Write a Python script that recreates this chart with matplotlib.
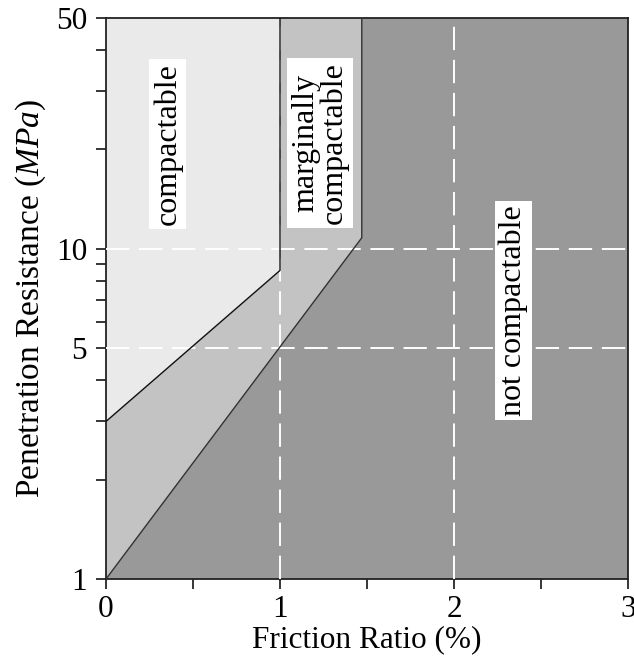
import matplotlib
matplotlib.use("Agg")
import matplotlib.pyplot as plt
from matplotlib.ticker import FixedLocator, NullFormatter, FixedFormatter

# ---- data ----
# compactable zone (friction ratio %, penetration resistance MPa)
compact_fr = [0.0, 1.0, 1.0, 0.0]
compact_pr = [3.0, 8.6, 50.0, 50.0]
# marginally compactable zone (upper part includes compactable, drawn underneath)
marginal_fr = [0.0, 1.47, 1.47, 0.0]
marginal_pr = [1.0, 10.8, 50.0, 50.0]
# whole chart domain = not compactable
x_min, x_max = 0.0, 3.0
y_min, y_max = 1.0, 50.0

x_major = [0, 1, 2, 3]
x_minor = [0.5, 1.5, 2.5]
y_major = [1, 5, 10, 50]
y_major_labels = ["1", "5", "10", "50"]
y_minor = [2, 3, 4, 6, 7, 8, 9, 20, 30, 40]
grid_x = [1, 2]
grid_y = [5, 10]

labels = [
    ("compactable", 0.355, 20.8),
    ("marginally\ncompactable", 1.23, 20.9),
    ("not compactable", 2.34, 6.5),
]

# ---- colours ----
c_light = "#eaeaea"
c_mid = "#c3c3c3"
c_dark = "#999999"

plt.rcParams["font.family"] = ["Liberation Serif", "DejaVu Serif"]
plt.rcParams["mathtext.fontset"] = "custom"
plt.rcParams["mathtext.it"] = "Liberation Serif:italic"
plt.rcParams["mathtext.rm"] = "Liberation Serif"

fig = plt.figure(figsize=(6.34, 6.59), dpi=100)
ax = fig.add_axes([106 / 634, 1 - 579 / 659, (628 - 106) / 634, (579 - 18) / 659])
ax.set_yscale("log")
ax.set_xlim(x_min, x_max)
ax.set_ylim(y_min, y_max)
ax.set_facecolor(c_dark)

ax.fill(marginal_fr, marginal_pr, color=c_mid, zorder=1, lw=0)
ax.fill(compact_fr, compact_pr, color=c_light, zorder=2, lw=0)

# white dashed guide lines
for gx in grid_x:
    ax.axvline(gx, color="white", lw=1.4, ls=(0, (12, 5)), zorder=3)
for gy in grid_y:
    ax.axhline(gy, color="white", lw=1.4, ls=(0, (12, 5)), zorder=3)

# boundary lines
ax.plot(marginal_fr[:3], marginal_pr[:3], color="#333333", lw=1.0, zorder=4)
ax.plot(compact_fr[:3], compact_pr[:3], color="#111111", lw=1.0, zorder=4)

for txt, x, y in labels:
    ax.text(x, y, txt, rotation=90, ha="center", va="center", fontsize=23,
            linespacing=0.95, zorder=5,
            bbox=dict(boxstyle="square,pad=0.12", fc="white", ec="none"))

ax.xaxis.set_major_locator(FixedLocator(x_major))
ax.xaxis.set_minor_locator(FixedLocator(x_minor))
ax.yaxis.set_major_locator(FixedLocator(y_major))
ax.yaxis.set_major_formatter(FixedFormatter(y_major_labels))
ax.yaxis.set_minor_locator(FixedLocator(y_minor))
ax.yaxis.set_minor_formatter(NullFormatter())
ax.set_xticklabels([str(v) for v in x_major])

ax.tick_params(which="both", direction="out", length=7.5, width=1.1,
               labelsize=22.5, color="black")
ax.tick_params(axis="y", which="both", pad=6)
ax.tick_params(axis="x", which="both", pad=4)

for s in ax.spines.values():
    s.set_linewidth(1.3)
    s.set_color("#222222")

ax.set_xlabel("Friction Ratio (%)", fontsize=22.5, labelpad=1)
ax.set_ylabel("Penetration Resistance ($\\mathit{MPa}$)", fontsize=24, labelpad=6)

fig.savefig("out.png", dpi=100)
